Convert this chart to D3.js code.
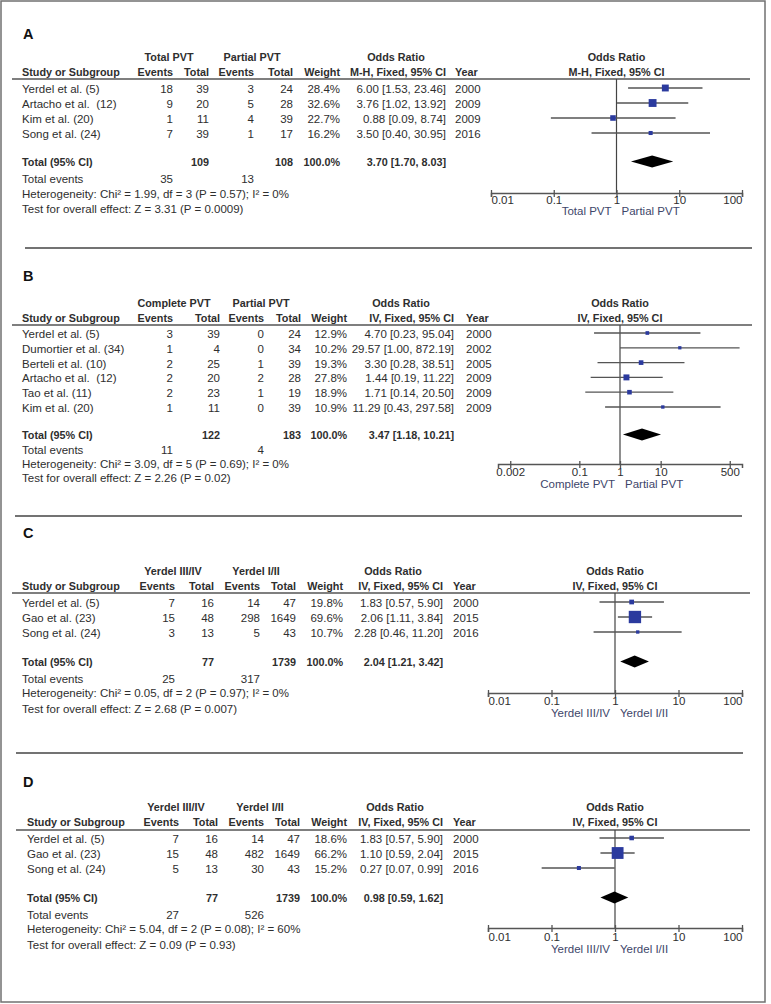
<!DOCTYPE html>
<html>
<head>
<meta charset="utf-8">
<script src="https://cdn.jsdelivr.net/npm/d3@7"></script>
<style>
body { margin: 0; background: #fff; }
svg text { font-family: 'Liberation Sans', Arial, sans-serif; font-size: 11.5px; fill: #2e2e2e; white-space: pre; }
svg text.b { font-weight: bold; font-size: 10.8px; }
</style>
</head>
<body>
<svg width="771" height="1004"></svg>
<script>
// ---- panel A: total vs partial PVT (M-H) ----
var a_study = ['Yerdel et al. (5)', 'Artacho et al.  (12)', 'Kim et al. (20)', 'Song et al. (24)'];
var a_year = [2000, 2009, 2009, 2016];
var a_ev1 = [18, 9, 1, 7];
var a_n1 = [39, 20, 11, 39];
var a_ev2 = [3, 5, 4, 1];
var a_n2 = [24, 28, 39, 17];
var a_weight = [28.4, 32.6, 22.7, 16.2];
var a_or = [6.00, 3.76, 0.88, 3.50];
var a_lo = [1.53, 1.02, 0.09, 0.40];
var a_hi = [23.46, 13.92, 8.74, 30.95];
var a_pooled = [3.70, 1.70, 8.03];
var a_totals = [35, 109, 13, 108];
var a_groups = ['Total PVT', 'Partial PVT'];
var a_ticks = [0.01, 0.1, 1, 10, 100];
var a_stats = ['Heterogeneity: Chi\u00b2 = 1.99, df = 3 (P = 0.57); I\u00b2 = 0%',
               'Test for overall effect: Z = 3.31 (P = 0.0009)'];

// ---- panel B: complete vs partial PVT ----
var b_study = ['Yerdel et al. (5)', 'Dumortier et al. (34)', 'Berteli et al. (10)', 'Artacho et al.  (12)', 'Tao et al. (11)', 'Kim et al. (20)'];
var b_year = [2000, 2002, 2005, 2009, 2009, 2009];
var b_ev1 = [3, 1, 2, 2, 2, 1];
var b_n1 = [39, 4, 25, 20, 23, 11];
var b_ev2 = [0, 0, 1, 2, 1, 0];
var b_n2 = [24, 34, 39, 28, 19, 39];
var b_weight = [12.9, 10.2, 19.3, 27.8, 18.9, 10.9];
var b_or = [4.70, 29.57, 3.30, 1.44, 1.71, 11.29];
var b_lo = [0.23, 1.00, 0.28, 0.19, 0.14, 0.43];
var b_hi = [95.04, 872.19, 38.51, 11.22, 20.50, 297.58];
var b_pooled = [3.47, 1.18, 10.21];
var b_totals = [11, 122, 4, 183];
var b_groups = ['Complete PVT', 'Partial PVT'];
var b_ticks = [0.002, 0.1, 1, 10, 500];
var b_stats = ['Heterogeneity: Chi\u00b2 = 3.09, df = 5 (P = 0.69); I\u00b2 = 0%',
               'Test for overall effect: Z = 2.26 (P = 0.02)'];

// ---- panel C: Yerdel III/IV vs I/II ----
var c_study = ['Yerdel et al. (5)', 'Gao et al. (23)', 'Song et al. (24)'];
var c_year = [2000, 2015, 2016];
var c_ev1 = [7, 15, 3];
var c_n1 = [16, 48, 13];
var c_ev2 = [14, 298, 5];
var c_n2 = [47, 1649, 43];
var c_weight = [19.8, 69.6, 10.7];
var c_or = [1.83, 2.06, 2.28];
var c_lo = [0.57, 1.11, 0.46];
var c_hi = [5.90, 3.84, 11.20];
var c_pooled = [2.04, 1.21, 3.42];
var c_totals = [25, 77, 317, 1739];
var c_groups = ['Yerdel III/IV', 'Yerdel I/II'];
var c_ticks = [0.01, 0.1, 1, 10, 100];
var c_stats = ['Heterogeneity: Chi\u00b2 = 0.05, df = 2 (P = 0.97); I\u00b2 = 0%',
               'Test for overall effect: Z = 2.68 (P = 0.007)'];

// ---- panel D: Yerdel III/IV vs I/II ----
var d_study = ['Yerdel et al. (5)', 'Gao et al. (23)', 'Song et al. (24)'];
var d_year = [2000, 2015, 2016];
var d_ev1 = [7, 15, 5];
var d_n1 = [16, 48, 13];
var d_ev2 = [14, 482, 30];
var d_n2 = [47, 1649, 43];
var d_weight = [18.6, 66.2, 15.2];
var d_or = [1.83, 1.10, 0.27];
var d_lo = [0.57, 0.59, 0.07];
var d_hi = [5.90, 2.04, 0.99];
var d_pooled = [0.98, 0.59, 1.62];
var d_totals = [27, 77, 526, 1739];
var d_groups = ['Yerdel III/IV', 'Yerdel I/II'];
var d_ticks = [0.01, 0.1, 1, 10, 100];
var d_stats = ['Heterogeneity: Chi\u00b2 = 5.04, df = 2 (P = 0.08); I\u00b2 = 60%',
               'Test for overall effect: Z = 0.09 (P = 0.93)'];

var col_heads = ['Events', 'Total', 'Events', 'Total', 'Weight'];

var svg = d3.select('svg');
var fmt = d3.format('.2f');
var pct = d3.format('.1f');
var ci_color = '#555';
var box_color = '#2b3a9e';

function or_text(or, lo, hi) {
    return fmt(or) + ' [' + fmt(lo) + ', ' + fmt(hi) + ']';
}

function txt(g, x, y, s, anchor, bold) {
    return g.append('text')
        .attr('class', bold ? 'b' : null)
        .attr('x', x)
        .attr('y', y)
        .attr('text-anchor', anchor || 'start')
        .text(s);
}

function draw_panel(p) {
    var L = p.layout;
    var c = L.cols;
    var g = svg.append('g');

    txt(g, 23, L.label_y, p.label, 'start', true).style('font-size', '14.5px').style('fill', '#111');

    // group headers
    txt(g, L.group_cx[0], L.gh, p.groups[0], 'middle', true);
    txt(g, L.group_cx[1], L.gh, p.groups[1], 'middle', true);
    txt(g, L.group_cx[2], L.gh, 'Odds Ratio', 'middle', true);

    // column headers
    txt(g, c[0], L.ch, 'Study or Subgroup', 'start', true);
    col_heads.forEach(function (h, i) {
        txt(g, c[i + 1], L.ch, h, 'end', true);
    });
    txt(g, c[6], L.ch, p.method, 'end', true);
    txt(g, c[7], L.ch, 'Year', 'start', true);

    g.append('line')
        .attr('x1', L.line_x[0]).attr('x2', L.line_x[1])
        .attr('y1', L.line).attr('y2', L.line)
        .attr('stroke', '#555').attr('stroke-width', 1.5);

    // study rows
    var row_y = function (i) { return L.row0 + i * L.step; };
    p.study.forEach(function (s, i) {
        var y = row_y(i);
        txt(g, c[0], y, s);
        txt(g, c[1], y, p.ev1[i], 'end');
        txt(g, c[2], y, p.n1[i], 'end');
        txt(g, c[3], y, p.ev2[i], 'end');
        txt(g, c[4], y, p.n2[i], 'end');
        txt(g, c[5], y, pct(p.weight[i]) + '%', 'end');
        txt(g, c[6], y, or_text(p.or[i], p.lo[i], p.hi[i]), 'end');
        txt(g, c[7], y, p.year[i]);
    });

    // totals
    txt(g, c[0], L.total, 'Total (95% CI)', 'start', true);
    txt(g, c[2], L.total, p.totals[1], 'end', true);
    txt(g, c[4], L.total, p.totals[3], 'end', true);
    txt(g, c[5], L.total, '100.0%', 'end', true);
    txt(g, c[6], L.total, or_text(p.pooled[0], p.pooled[1], p.pooled[2]), 'end', true);
    txt(g, c[0], L.events, 'Total events');
    txt(g, c[1], L.events, p.totals[0], 'end');
    txt(g, c[3], L.events, p.totals[2], 'end');
    txt(g, c[0], L.het, p.stats[0]);
    txt(g, c[0], L.test, p.stats[1]);

    // forest plot
    var x = d3.scaleLog().domain(L.domain).range(L.frange);
    var size = d3.scaleLinear().domain([0, 100]).range(L.box);
    var x1 = x(1);

    txt(g, x1, L.gh, 'Odds Ratio', 'middle', true);
    txt(g, x1, L.ch, p.method, 'middle', true);

    g.append('line')
        .attr('x1', x1).attr('x2', x1)
        .attr('y1', L.line).attr('y2', L.axis)
        .attr('stroke', '#444').attr('stroke-width', 1.2);

    var rows = g.selectAll('g.study')
        .data(p.study.map(function (s, i) { return i; }))
        .enter()
        .append('g')
        .attr('class', 'study');

    rows.append('line')
        .attr('x1', function (i) { return x(p.lo[i]); })
        .attr('x2', function (i) { return x(p.hi[i]); })
        .attr('y1', function (i) { return row_y(i) - 5; })
        .attr('y2', function (i) { return row_y(i) - 5; })
        .attr('stroke', ci_color).attr('stroke-width', 1.3);

    rows.append('rect')
        .attr('x', function (i) { return x(p.or[i]) - size(p.weight[i]) / 2; })
        .attr('y', function (i) { return row_y(i) - 5 - size(p.weight[i]) / 2; })
        .attr('width', function (i) { return size(p.weight[i]); })
        .attr('height', function (i) { return size(p.weight[i]); })
        .attr('fill', box_color);

    var yc = L.total - 4.5;
    g.append('path')
        .attr('d', 'M' + x(p.pooled[1]) + ',' + yc +
                   'L' + x(p.pooled[0]) + ',' + (yc - 6) +
                   'L' + x(p.pooled[2]) + ',' + yc +
                   'L' + x(p.pooled[0]) + ',' + (yc + 6) + 'Z')
        .attr('fill', '#000');

    var ax = g.append('g')
        .attr('transform', 'translate(0,' + L.axis + ')')
        .call(d3.axisBottom(x)
            .tickValues(p.ticks)
            .tickFormat(function (d) { return String(d); })
            .tickSizeOuter(0)
            .tickSize(4));
    ax.attr('font-size', null).attr('font-family', null);
    ax.select('.domain').attr('stroke', '#555').attr('stroke-width', 1.5);
    ax.selectAll('.tick line').attr('y1', -3).attr('y2', 4).attr('stroke', '#555').attr('stroke-width', 1.3);
    // end labels sit inside the axis, the rest are centred on their tick
    var r = x.range();
    ax.selectAll('.tick text')
        .attr('y', L.tick - L.axis)
        .attr('dy', 0)
        .attr('fill', null)
        .attr('text-anchor', function (d) {
            if (Math.abs(x(d) - r[0]) < 1) return 'start';
            if (Math.abs(x(d) - r[1]) < 1) return 'end';
            return 'middle';
        });

    txt(g, x1 - 5, L.fav, p.groups[0], 'end').style('fill', '#40466a');
    txt(g, x1 + 5, L.fav, p.groups[1], 'start').style('fill', '#40466a');
}

var panels = [
    {label: 'A', study: a_study, year: a_year, ev1: a_ev1, n1: a_n1, ev2: a_ev2, n2: a_n2,
     weight: a_weight, or: a_or, lo: a_lo, hi: a_hi, pooled: a_pooled, totals: a_totals,
     groups: a_groups, ticks: a_ticks, stats: a_stats, method: 'M-H, Fixed, 95% CI',
     layout: {label_y: 39, gh: 61, ch: 76, line: 79, row0: 93, step: 15, total: 166, events: 183,
              het: 198, test: 213, axis: 193, tick: 204, fav: 215, line_x: [12, 750],
              cols: [22, 173, 209, 254, 293, 340, 446, 455], group_cx: [169, 252, 396],
              domain: [0.01, 100], frange: [491, 742], box: [0.3, 23.5]}},
    {label: 'B', study: b_study, year: b_year, ev1: b_ev1, n1: b_n1, ev2: b_ev2, n2: b_n2,
     weight: b_weight, or: b_or, lo: b_lo, hi: b_hi, pooled: b_pooled, totals: b_totals,
     groups: b_groups, ticks: b_ticks, stats: b_stats, method: 'IV, Fixed, 95% CI',
     layout: {label_y: 281, gh: 307, ch: 322, line: 325, row0: 338, step: 14.8, total: 439, events: 454,
              het: 468, test: 482, axis: 464, tick: 476, fav: 488, line_x: [12, 752],
              cols: [22, 173, 220, 264, 301, 347, 454, 466], group_cx: [174, 261, 401],
              domain: [0.001, 1000], frange: [498, 742], box: [1.7, 17]}},
    {label: 'C', study: c_study, year: c_year, ev1: c_ev1, n1: c_n1, ev2: c_ev2, n2: c_n2,
     weight: c_weight, or: c_or, lo: c_lo, hi: c_hi, pooled: c_pooled, totals: c_totals,
     groups: c_groups, ticks: c_ticks, stats: c_stats, method: 'IV, Fixed, 95% CI',
     layout: {label_y: 538, gh: 575, ch: 590, line: 593, row0: 607, step: 15, total: 666, events: 683,
              het: 697, test: 713, axis: 693, tick: 705, fav: 717, line_x: [12, 750],
              cols: [22, 175, 214, 260, 296, 343, 443, 453], group_cx: [173, 256, 393],
              domain: [0.01, 100], frange: [488, 742], box: [1.7, 17]}},
    {label: 'D', study: d_study, year: d_year, ev1: d_ev1, n1: d_n1, ev2: d_ev2, n2: d_n2,
     weight: d_weight, or: d_or, lo: d_lo, hi: d_hi, pooled: d_pooled, totals: d_totals,
     groups: d_groups, ticks: d_ticks, stats: d_stats, method: 'IV, Fixed, 95% CI',
     layout: {label_y: 787, gh: 811, ch: 826, line: 830, row0: 843, step: 15, total: 902, events: 919,
              het: 933, test: 949, axis: 928, tick: 941, fav: 953, line_x: [16, 750],
              cols: [27, 179, 218, 264, 300, 347, 443, 453], group_cx: [176, 260, 395],
              domain: [0.01, 100], frange: [488, 742], box: [1.7, 17]}}
];

panels.forEach(draw_panel);

// separators between panels
[[248, 25, 752], [516, 15, 742], [753, 16, 743]].forEach(function (s) {
    svg.append('line')
        .attr('x1', s[1]).attr('x2', s[2])
        .attr('y1', s[0]).attr('y2', s[0])
        .attr('stroke', '#444').attr('stroke-width', 1.5);
});

// outer frame
svg.append('rect')
    .attr('x', 1).attr('y', 1)
    .attr('width', 764).attr('height', 1001)
    .attr('fill', 'none')
    .attr('stroke', '#707070').attr('stroke-width', 1.5);
</script>
</body>
</html>
